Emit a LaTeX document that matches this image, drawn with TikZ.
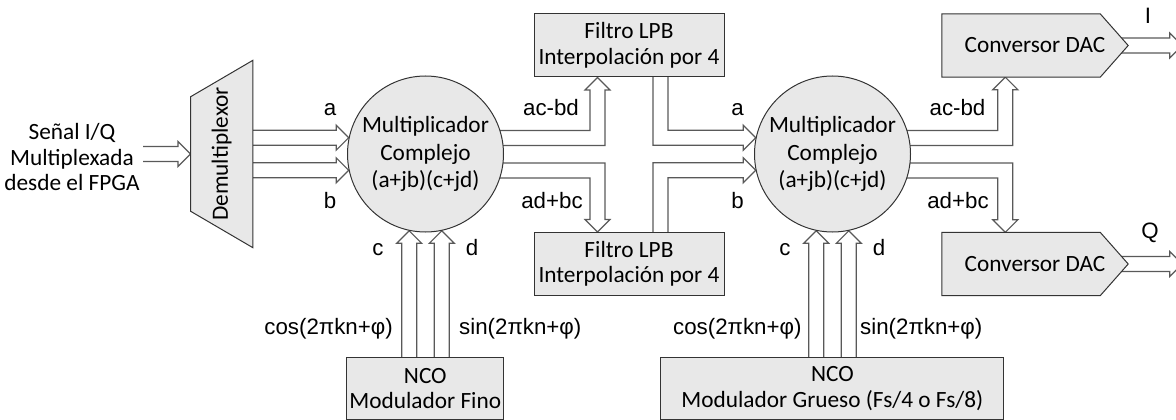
\documentclass[tikz,border=0pt]{standalone}
\usepackage{fontspec}
\setmainfont{Carlito}
\newfontfamily\arialfont{Liberation Sans}
\usepackage{graphicx}
\usetikzlibrary{calc, positioning, backgrounds}

\newcommand{\boxfont}{\fontsize{23.3}{25.5}\selectfont}
\newcommand{\tagfont}{\arialfont\fontsize{22.3}{26}\selectfont}

% straight hollow arrow from #1 to #2
\newcommand{\hollowarrow}[2]{%
  \coordinate (hb) at ($(#2)!12.5pt!(#1)$);
  \draw[arrowline] ($(#1)!7.5pt!90:(#2)$) -- ($(hb)!7.5pt!90:(#2)$) -- ($(hb)!12.5pt!90:(#2)$)
    -- (#2) -- ($(hb)!12.5pt!-90:(#2)$) -- ($(hb)!7.5pt!-90:(#2)$) -- ($(#1)!7.5pt!-90:(#2)$);}

% hollow arrow, first right then up (#3=-1) or down (#3=1)
\newcommand{\hollowhv}[3]{%
  \draw[arrowline] ($(#1)+(0,{-7.5*(#3)})$) -- ($(#2 |- #1)+(7.5,{-7.5*(#3)})$)
    -- ($(#2)+(7.5,{-12.5*(#3)})$) -- ($(#2)+(12.5,{-12.5*(#3)})$) -- (#2)
    -- ($(#2)+(-12.5,{-12.5*(#3)})$) -- ($(#2)+(-7.5,{-12.5*(#3)})$)
    -- ($(#2 |- #1)+(-7.5,{7.5*(#3)})$) -- ($(#1)+(0,{7.5*(#3)})$);}

% hollow arrow, first down (#3=1) or up (#3=-1) then right
\newcommand{\hollowvh}[3]{%
  \draw[arrowline] ($(#1)+(-7.5,0)$) -- ($(#1 |- #2)+(-7.5,{7.5*(#3)})$)
    -- ($(#2)+(-12.5,{7.5*(#3)})$) -- ($(#2)+(-12.5,{12.5*(#3)})$) -- (#2)
    -- ($(#2)+(-12.5,{-12.5*(#3)})$) -- ($(#2)+(-12.5,{-7.5*(#3)})$)
    -- ($(#1 |- #2)+(7.5,{-7.5*(#3)})$) -- ($(#1)+(7.5,0)$);}

\begin{document}
\begin{tikzpicture}[
x=1pt, y=-1pt,
shapeline/.style={draw=black!80, fill=black!9, line width=1pt},
box/.style={shapeline, rectangle, align=center, inner sep=0pt, font=\boxfont, minimum width=190pt, minimum height=63pt},
mult/.style={shapeline, circle, align=center, inner sep=0pt, minimum size=156pt, font=\fontsize{23.3}{27.5}\selectfont},
frame/.style={rectangle, align=center, inner sep=0pt, font=\boxfont},
tag/.style={font=\tagfont, inner sep=0pt, anchor=base},
arrowline/.style={draw=black!65, line width=1.2pt}
]
\useasboundingbox (0,0) rectangle (1176,420);

\node[frame] (source) at (72,157) {Señal I/Q\\Multiplexada\\desde el FPGA};
\node[frame, minimum width=62pt, minimum height=187pt] (demux) at (221.7,154) {\rotatebox{90}{Demultiplexor}};

\node[mult] (mult1) at (425.5,154) {Multiplicador\\Complejo\\(a+jb)(c+jd)};
\node[mult] (mult2) at (832.5,154) {Multiplicador\\Complejo\\(a+jb)(c+jd)};

\node[box] (filt1) at (629,45.5) {Filtro LPB\\Interpolación por 4};
\node[box] (filt2) at (629,264) {Filtro LPB\\Interpolación por 4};

\node[frame, minimum width=186pt, minimum height=63pt] (dac1) at (1035,45.5) {Conversor DAC};
\node[frame, minimum width=186pt, minimum height=63pt] (dac2) at (1035,264) {Conversor DAC};

\node[box, minimum width=157pt, minimum height=62pt] (nco1) at (425.3,388.5) {NCO\\Modulador Fino};
\node[box, minimum width=343pt, minimum height=62pt] (nco2) at (832.4,388.5) {NCO\\Modulador Grueso (Fs/4 o Fs/8)};

% labels
\node[tag] (la1) at (330,115) {a};
\node[tag] (lb1) at (330,208) {b};
\node[tag] (lacbd1) at (551,115) {ac-bd};
\node[tag] (ladbc1) at (552,208) {ad+bc};
\node[tag] (la2) at (737.5,115) {a};
\node[tag] (lb2) at (737.5,208) {b};
\node[tag] (lacbd2) at (957.5,115) {ac-bd};
\node[tag] (ladbc2) at (958,208) {ad+bc};
\node[tag] (lc1) at (378,255) {c};
\node[tag] (ld1) at (472,255) {d};
\node[tag] (lc2) at (785,255) {c};
\node[tag] (ld2) at (879,255) {d};
\node[tag, anchor=base east] (lcos1) at (393,334) {cos(2πkn+φ)};
\node[tag, anchor=base west] (lsin1) at (459,334) {sin(2πkn+φ)};
\node[tag, anchor=base east] (lcos2) at (801.7,334) {cos(2πkn+φ)};
\node[tag, anchor=base west] (lsin2) at (860,334) {sin(2πkn+φ)};
\node[tag] (li) at (1148,23.5) {I};
\node[tag] (lq) at (1150,238) {Q};

% connector ends
\coordinate (in) at (143,154);
\coordinate (ta) at (demux.center |- mult1.168);
\coordinate (tb) at (demux.center |- mult1.192);
\coordinate (m1up) at ($(mult1.center)+(0,-16)$);
\coordinate (m1dn) at ($(mult1.center)+(0,16.5)$);
\coordinate (m2up) at ($(mult2.center)+(0,-16)$);
\coordinate (m2dn) at ($(mult2.center)+(0,16.5)$);
\coordinate (f1in) at ($(filt1.south)+(-31.5,0)$);
\coordinate (f2in) at ($(filt2.north)+(-31.5,0)$);
\coordinate (f1out) at ($(filt1.center)+(31.5,0)$);
\coordinate (f2out) at ($(filt2.center)+(31.5,0)$);
\coordinate (d1in) at ($(dac1.south west)+(63.5,0)$);
\coordinate (d2in) at ($(dac2.north west)+(63.5,0)$);
\coordinate (outI) at ($(dac1.east)+(54,0)$);
\coordinate (outQ) at ($(dac2.east)+(54,0)$);
\coordinate (nc1) at (mult1.258 |- nco1.center);
\coordinate (nd1) at (mult1.282 |- nco1.center);
\coordinate (nc2) at (mult2.258 |- nco2.center);
\coordinate (nd2) at (mult2.282 |- nco2.center);

\begin{scope}[on background layer]
\hollowarrow{in}{demux.west}
\hollowarrow{ta}{mult1.168}
\hollowarrow{tb}{mult1.192}
\hollowhv{m1up}{f1in}{-1}
\hollowhv{m1dn}{f2in}{1}
\hollowvh{f1out}{mult2.168}{1}
\hollowvh{f2out}{mult2.192}{-1}
\hollowhv{m2up}{d1in}{-1}
\hollowhv{m2dn}{d2in}{1}
\hollowarrow{dac1.center}{outI}
\hollowarrow{dac2.center}{outQ}
\hollowarrow{nc1}{mult1.258}
\hollowarrow{nd1}{mult1.282}
\hollowarrow{nc2}{mult2.258}
\hollowarrow{nd2}{mult2.282}

% demultiplexer and DAC outlines, drawn over the arrow tails
\draw[shapeline] (demux.north east) -- (demux.south east) -- ($(demux.south west)+(0,-36.5)$)
  -- ($(demux.north west)+(0,36.5)$) -- cycle;
\draw[shapeline] (dac1.south west) -- (dac1.north west) -- ($(dac1.north east)+(-28,0)$)
  -- (dac1.east) -- ($(dac1.south east)+(-28,0)$) -- cycle;
\draw[shapeline] (dac2.south west) -- (dac2.north west) -- ($(dac2.north east)+(-28,0)$)
  -- (dac2.east) -- ($(dac2.south east)+(-28,0)$) -- cycle;
\end{scope}

\end{tikzpicture}
\end{document}
